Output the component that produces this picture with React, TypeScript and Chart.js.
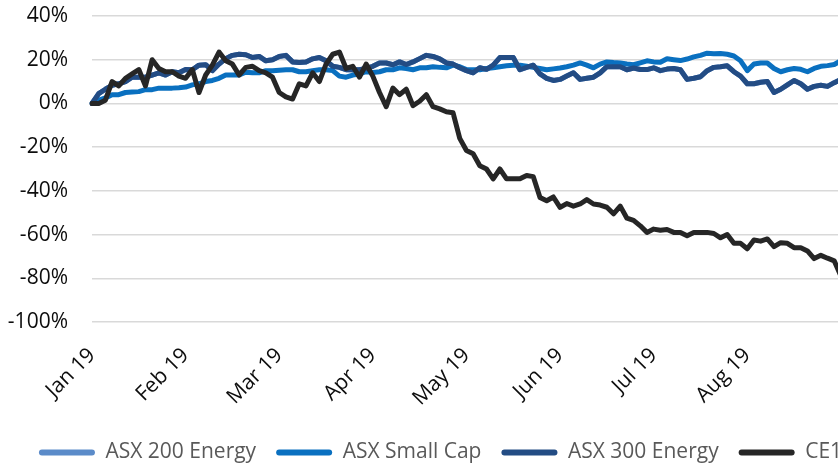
import React, { useEffect, useRef } from "react";
import { Chart, registerables } from "chart.js";

Chart.register(...registerables);

// Tick labels shown along the x axis (one every `pointsPerLabel` observations)
const monthLabels = ["Jan 19", "Feb 19", "Mar 19", "Apr 19", "May 19", "Jun 19", "Jul 19", "Aug 19"];
const pointsPerLabel = 14;

// Y axis range (percent)
const yMin = -100;
const yMax = 40;
const yStep = 20;

const seriesNames = ["ASX 200 Energy", "ASX Small Cap", "ASX 300 Energy", "CE1"];
const seriesColors = ["#5b8bc9", "#0a70c0", "#234c84", "#262626"];

// Cumulative return (%) since start
const ce1 = [
  0, 0, 1.5, 10, 8, 11.5, 13.5, 15.5, 8, 20,
  16, 14.5, 14.5, 12.5, 11.5, 15.5, 5, 13, 17.5, 23.5,
  19.5, 18, 13, 16.5, 17, 15, 14, 12, 5, 3,
  2, 9, 8, 14, 10, 18, 22.5, 23.5, 16, 17,
  12, 18, 12.5, 5, -1.5, 7, 4, 6.5, -1, 1,
  4, -1.5, -2.5, -3.8, -4.3, -16, -21.5, -23, -28.5, -30,
  -34.5, -30, -34.5, -34.5, -34.5, -33, -33.5, -43, -44.5, -42.8,
  -47.6, -45.8, -47, -46, -44, -46, -46.5, -47.5, -50.5, -47,
  -52.5, -53.5, -56, -59, -57.5, -58, -57.7, -59, -59, -60.5,
  -59, -59, -59, -59.5, -61.5, -60, -64, -64, -66.5, -62.5,
  -63, -62, -65.5, -63.7, -64, -66, -66, -67.5, -71, -69.5,
  -70.8, -72, -79, -78, -77, -76, -77, -78, -77,
];

const asx300Energy = [
  0, 4.5, 6.5, 8.3, 9, 10, 12, 12, 12, 13,
  14, 13, 14.5, 14, 15.5, 15.4, 17.5, 17.7, 15, 18,
  20.5, 22, 22.5, 22.3, 21, 21.5, 19.5, 20, 21.5, 22,
  19, 18.7, 19, 20.4, 21, 19.5, 17, 16.5, 15.4, 15.4,
  15.4, 16, 17, 18.5, 18.5, 17.7, 19, 17.8, 19, 20.5,
  22, 21.5, 20.4, 18.5, 18, 16.3, 15, 14, 16.3, 15.6,
  17.5, 21, 21, 21, 15.4, 16.5, 17.5, 13.5, 11.5, 10.5,
  11, 12.5, 14, 11, 11.5, 12, 14, 16.8, 16.8, 16.8,
  15.4, 16.2, 15.5, 15.5, 16.3, 15, 15.7, 16, 15.4, 11,
  11.5, 12.2, 15, 16.5, 16.8, 17.2, 14.5, 12.5, 9, 9,
  9.7, 10, 5, 6.5, 8.5, 10.5, 9, 6.5, 7.8, 8.3,
  7.8, 9.5, 11, 11, 10.5, 11, 11.5, 11, 10.5,
];

// ASX 200 Energy tracks ASX 300 Energy and is drawn underneath it
const asx200Energy = asx300Energy;

const asxSmallCap = [
  0, 1.5, 2.5, 4, 4, 5, 5.2, 5.4, 6.3, 6.3,
  7, 7, 7, 7.2, 7.5, 8.5, 9, 10, 10.5, 11.5,
  13, 13, 13, 14.3, 14, 14, 15, 15, 15.2, 15.4,
  15.4, 14.5, 14.5, 15, 15.4, 15.4, 15, 12.5, 12, 13,
  13.5, 14.5, 14.2, 14.5, 15.4, 15.4, 16.3, 16, 15.4, 16.3,
  16.3, 16.8, 16.5, 16.3, 17.5, 16.8, 15.5, 15.4, 15.4, 16,
  16.3, 16.8, 17.2, 17.5, 17.5, 17, 16.5, 16, 15.4, 15.8,
  16.2, 16.8, 17.5, 18.5, 17.5, 16.3, 18, 19, 18.7, 18.5,
  18, 17.7, 18.6, 19.5, 19, 18.8, 20.4, 20, 19.6, 20.3,
  21.3, 22, 23, 22.7, 22.8, 22.5, 21.7, 19.5, 15, 18,
  18.5, 18.5, 16, 14.5, 15.4, 16, 15.6, 14.5, 16, 17,
  17.3, 17.8, 19.5, 19.5, 19, 19.5, 20, 19.8, 19.5,
];

const categories = ce1.map((_, i) =>
  i % pointsPerLabel === 0 && i / pointsPerLabel < monthLabels.length
    ? monthLabels[i / pointsPerLabel]
    : `p${i}`
);

const FONT = "'Open Sans', 'Noto Sans', sans-serif";

export default function App() {
  const ref = useRef<HTMLCanvasElement | null>(null);

  useEffect(() => {
    if (!ref.current) return;
    const values = [asx200Energy, asxSmallCap, asx300Energy, ce1];
    const orders = [3, 2, 1, 0];
    const chart = new Chart(ref.current, {
      type: "line",
      data: {
        labels: categories,
        datasets: seriesNames.map((name, i) => ({
          label: name,
          data: values[i],
          borderColor: seriesColors[i],
          backgroundColor: seriesColors[i],
          borderWidth: 5,
          pointRadius: 0,
          tension: 0,
          borderCapStyle: "round" as const,
          borderJoinStyle: "round" as const,
          order: orders[i],
        })),
      },
      options: {
        responsive: false,
        animation: false,
        layout: { padding: { top: 16, left: 0, right: 20, bottom: -7 } },
        plugins: {
          legend: {
            position: "bottom",
            labels: {
              boxWidth: 56,
              boxHeight: 6,
              padding: 20,
              color: "#595959",
              font: { family: FONT, size: 21 },
              useBorderRadius: true,
              borderRadius: 3,
              sort: (a: any, b: any) => a.datasetIndex - b.datasetIndex,
              generateLabels: (c: any) =>
                (Chart.defaults.plugins.legend.labels.generateLabels as any)(c).map((it: any) => ({
                  ...it,
                  lineWidth: 0,
                  strokeStyle: "rgba(0,0,0,0)",
                })),
            },
          },
          tooltip: { enabled: false },
        },
        scales: {
          x: {
            type: "category",
            grid: { display: false, drawTicks: false },
            border: { display: false },
            ticks: {
              autoSkip: false,
              minRotation: 45,
              maxRotation: 45,
              padding: 21,
              color: "#0d0d0d",
              font: { family: FONT, size: 21 },
              callback: function (this: any, value: any) {
                const l = this.getLabelForValue(value);
                return monthLabels.includes(l) ? l : null;
              },
            },
            afterFit: (s: any) => {
              s.height = 100;
              s.paddingRight = 0;
            },
          },
          y: {
            min: yMin,
            max: yMax,
            ticks: {
              stepSize: yStep,
              padding: 24,
              color: "#0d0d0d",
              font: { family: FONT, size: 21 },
              callback: (v: any) => `${v}%`,
            },
            grid: { color: "#d9d9d9", lineWidth: 1.5, drawTicks: false },
            border: { display: false },
            afterFit: (s: any) => {
              s.width = 92;
              s.paddingTop = 0;
              s.paddingBottom = 0;
            },
          },
        },
      },
    });
    return () => chart.destroy();
  }, []);

  return (
    <div
      style={{
        position: "fixed",
        left: 0,
        top: 0,
        width: 838,
        height: 466,
        overflow: "hidden",
        background: "#fff",
      }}
    >
      <canvas ref={ref} width={901} height={466} style={{ display: "block" }} />
    </div>
  );
}
